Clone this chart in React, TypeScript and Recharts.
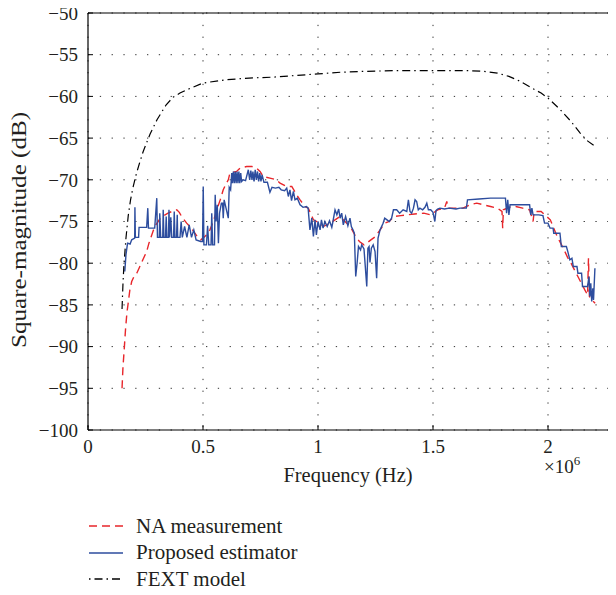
import React from 'react';
import { LineChart, Line, XAxis, YAxis, CartesianGrid, Legend } from 'recharts';

// Frequency in units of 1e6 Hz, magnitude in dB
const xTicks = [0, 0.5, 1, 1.5, 2];
const yTicks = [-100, -95, -90, -85, -80, -75, -70, -65, -60, -55, -50];

const naMeasurement: [number, number][] = [
  [0.148, -95.0], [0.152, -92.5], [0.157, -90.5], [0.163, -88.0], [0.169, -86.0], [0.176, -84.5],
  [0.182, -83.2], [0.19, -82.2], [0.2, -81.6], [0.212, -81.2], [0.222, -80.6], [0.235, -79.8],
  [0.245, -79.2], [0.255, -78.6], [0.265, -77.6], [0.275, -76.8], [0.285, -76.0], [0.295, -75.4],
  [0.305, -75.0], [0.315, -74.6], [0.33, -74.3], [0.348, -74.0], [0.365, -73.8], [0.386, -73.6],
  [0.397, -73.9], [0.407, -74.4], [0.418, -74.8], [0.429, -75.2], [0.443, -75.6], [0.457, -76.1],
  [0.47, -76.6], [0.48, -77.0], [0.49, -77.2], [0.5, -77.0], [0.515, -76.6], [0.53, -76.0],
  [0.545, -75.0], [0.56, -73.6], [0.575, -72.4], [0.588, -71.2], [0.6, -70.5], [0.61, -70.0],
  [0.617, -69.2], [0.646, -69.0], [0.661, -68.6], [0.69, -68.4], [0.712, -68.4], [0.733, -68.6],
  [0.748, -69.0], [0.762, -69.6], [0.791, -69.8], [0.82, -70.0], [0.835, -70.4], [0.864, -70.8],
  [0.886, -70.8], [0.907, -71.8], [0.922, -72.4], [0.943, -73.2], [0.958, -73.4], [0.98, -74.8],
  [1.009, -75.2], [1.023, -75.6], [1.052, -75.2], [1.074, -74.8], [1.096, -74.4], [1.125, -75.2],
  [1.14, -75.6], [1.16, -76.6], [1.18, -77.4], [1.2, -77.8], [1.212, -77.6], [1.23, -77.2],
  [1.25, -76.8], [1.27, -76.0], [1.29, -75.2], [1.31, -75.0], [1.33, -74.4], [1.36, -74.3],
  [1.39, -74.2], [1.42, -74.1], [1.46, -74.0], [1.49, -74.2], [1.52, -73.6], [1.55, -73.4],
  [1.56, -72.6], [1.565, -73.4], [1.6, -73.4], [1.63, -73.4], [1.66, -73.0], [1.69, -72.8],
  [1.72, -73.0], [1.75, -73.2], [1.78, -73.4], [1.8, -73.8], [1.803, -75.8], [1.806, -73.6],
  [1.83, -73.3], [1.86, -73.2], [1.89, -73.4], [1.92, -73.6], [1.935, -75.0], [1.94, -73.8],
  [1.97, -73.8], [1.99, -74.3], [2.01, -74.8], [2.025, -75.8], [2.04, -76.8], [2.055, -77.6],
  [2.07, -78.4], [2.085, -79.3], [2.1, -80.0], [2.115, -80.8], [2.13, -81.6], [2.145, -82.4],
  [2.16, -83.2], [2.172, -83.8], [2.176, -79.4], [2.18, -84.0], [2.19, -84.4], [2.205, -84.8],
];

const proposedEstimator: [number, number][] = [
  [0.16, -81.0], [0.165, -79.0], [0.172, -77.6], [0.183, -77.7], [0.19, -77.2], [0.203, -77.0],
  [0.204, -73.3], [0.206, -76.9], [0.22, -76.9], [0.222, -75.7], [0.255, -75.7], [0.26, -73.4],
  [0.263, -75.8], [0.29, -75.8], [0.299, -72.2], [0.302, -76.9], [0.31, -76.9], [0.312, -74.0],
  [0.316, -76.9], [0.325, -76.9], [0.327, -73.6], [0.33, -76.9], [0.337, -76.9], [0.34, -74.4],
  [0.343, -76.9], [0.35, -76.9], [0.352, -73.6], [0.355, -76.9], [0.36, -74.5], [0.364, -76.9],
  [0.372, -76.9], [0.375, -73.8], [0.378, -76.9], [0.385, -76.9], [0.388, -74.2], [0.39, -76.9],
  [0.4, -76.9], [0.405, -75.0], [0.41, -76.9], [0.42, -75.6], [0.43, -76.9], [0.44, -75.4],
  [0.45, -76.9], [0.46, -76.0], [0.47, -77.2], [0.49, -77.4], [0.498, -77.4], [0.501, -70.8],
  [0.504, -77.8], [0.515, -77.8], [0.52, -75.5], [0.525, -77.8], [0.535, -77.8], [0.538, -74.0],
  [0.542, -77.8], [0.55, -77.8], [0.553, -71.8], [0.557, -75.0], [0.562, -73.0], [0.567, -77.6],
  [0.572, -74.0], [0.58, -72.8], [0.585, -72.8], [0.588, -74.6], [0.592, -72.4], [0.61, -74.6],
  [0.614, -70.9], [0.62, -71.2], [0.625, -69.2], [0.628, -70.4], [0.632, -69.0],
  [0.636, -70.4], [0.64, -69.0], [0.644, -70.4], [0.648, -69.0], [0.652, -70.4], [0.656, -69.0],
  [0.66, -70.4], [0.664, -69.2], [0.668, -70.2], [0.675, -70.0], [0.685, -70.1], [0.697, -68.8],
  [0.703, -70.0], [0.708, -68.9], [0.713, -70.0], [0.717, -69.0], [0.722, -70.2], [0.727, -68.8],
  [0.732, -70.0], [0.737, -69.0], [0.742, -70.2], [0.747, -69.2], [0.752, -70.2], [0.757, -69.4],
  [0.765, -70.3], [0.78, -70.3], [0.791, -71.5], [0.8, -70.9], [0.815, -71.0], [0.83, -70.9],
  [0.84, -71.2], [0.855, -71.3], [0.864, -71.0], [0.871, -72.0], [0.878, -71.2], [0.885, -72.5],
  [0.893, -71.4], [0.9, -72.4], [0.91, -72.2], [0.922, -73.0], [0.935, -73.3], [0.95, -73.2],
  [0.957, -73.4], [0.965, -76.0], [0.973, -74.6], [0.98, -76.8], [0.987, -74.8], [0.993, -76.6],
  [1.0, -75.0], [1.009, -76.0], [1.015, -74.8], [1.022, -75.8], [1.03, -75.0], [1.04, -75.6],
  [1.05, -74.9], [1.06, -75.7], [1.065, -75.0], [1.074, -73.6], [1.082, -74.2], [1.09, -73.5],
  [1.096, -74.6], [1.103, -74.0], [1.11, -75.4], [1.12, -74.4], [1.13, -75.5], [1.139, -74.6],
  [1.145, -75.6], [1.152, -76.0], [1.158, -76.4], [1.164, -81.6], [1.17, -80.0], [1.176, -78.0],
  [1.185, -78.4], [1.19, -77.8], [1.2, -78.3], [1.212, -82.8], [1.217, -78.2], [1.222, -78.0],
  [1.226, -79.9], [1.232, -78.2], [1.24, -77.8], [1.248, -78.6], [1.255, -81.8], [1.261, -77.0],
  [1.27, -76.0], [1.283, -75.2], [1.29, -74.6], [1.3, -74.8], [1.31, -75.0], [1.32, -74.6],
  [1.328, -73.6], [1.342, -73.6], [1.355, -74.0], [1.37, -73.6], [1.386, -73.8], [1.393, -72.4],
  [1.4, -73.8], [1.407, -74.0], [1.415, -73.4], [1.422, -72.4], [1.429, -72.6], [1.436, -73.6],
  [1.443, -73.4], [1.455, -73.6], [1.465, -73.3], [1.473, -72.8], [1.48, -73.6], [1.49, -73.6],
  [1.5, -73.9], [1.508, -75.0], [1.513, -73.7], [1.52, -73.5], [1.53, -73.4], [1.55, -73.5],
  [1.57, -73.4], [1.6, -73.5], [1.617, -73.4], [1.645, -73.4], [1.65, -72.4], [1.7, -72.3],
  [1.75, -72.2], [1.8, -72.2], [1.815, -72.2], [1.82, -74.0], [1.825, -72.4], [1.83, -74.2],
  [1.835, -73.0], [1.84, -73.0], [1.88, -73.0], [1.92, -73.0], [1.925, -74.2], [1.93, -73.4],
  [1.935, -74.2], [1.96, -74.2], [1.978, -74.3], [1.985, -75.2], [2.0, -75.2], [2.009, -75.8],
  [2.022, -75.8], [2.025, -76.4], [2.052, -76.4], [2.058, -78.0], [2.08, -78.0], [2.087, -78.7],
  [2.095, -79.6], [2.104, -79.4], [2.11, -80.4], [2.126, -80.4], [2.13, -81.2], [2.146, -81.2],
  [2.15, -82.8], [2.172, -82.8], [2.178, -81.6], [2.182, -84.0], [2.186, -82.4], [2.19, -84.6],
  [2.195, -83.0], [2.198, -84.4], [2.204, -80.6],
];

const fextModel: [number, number][] = [
  [0.148, -85.5], [0.152, -82.5], [0.156, -80.3], [0.165, -77.0], [0.175, -74.3], [0.185, -72.4],
  [0.195, -71.0], [0.21, -69.3], [0.225, -67.9], [0.24, -66.6], [0.27, -64.5], [0.3, -62.8],
  [0.34, -61.0], [0.37, -60.1], [0.4, -59.6], [0.43, -59.2], [0.5, -58.4], [0.6, -58.0],
  [0.7, -57.8], [0.8, -57.7], [0.9, -57.5], [1.0, -57.3], [1.1, -57.1], [1.2, -57.0],
  [1.35, -56.9], [1.5, -56.9], [1.65, -56.9], [1.72, -57.0], [1.78, -57.2], [1.83, -57.6],
  [1.88, -58.2], [1.93, -59.0], [1.97, -59.6], [2.0, -60.2], [2.05, -61.5], [2.1, -63.0],
  [2.14, -64.4], [2.17, -65.3], [2.2, -65.9],
];

const toRows = (pts: [number, number][]) => pts.map(([f, v]) => ({ f, v }));

const FONT = '"Liberation Serif", "DejaVu Serif", serif';
const TEXT = '#231f20';

const series = [
  { name: 'NA measurement', data: toRows(naMeasurement), color: '#e8262b', dash: '8 5', width: 1.4, legendDash: '8 5' },
  { name: 'Proposed estimator', data: toRows(proposedEstimator), color: '#2d4d9e', dash: undefined, width: 1.4, legendDash: undefined },
  { name: 'FEXT model', data: toRows(fextModel), color: '#000000', dash: '8 4 1.5 4', width: 1.2, legendDash: '1.5 4 8 4' },
];

const fmtY = (v: number) => (v < 0 ? '\u2212' + Math.abs(v) : String(v));

const LegendContent = () => (
  <div style={{ fontFamily: FONT, fontSize: 21, color: TEXT }}>
    {series.map((s) => (
      <div key={s.name} style={{ display: 'flex', alignItems: 'center', height: 26.5 }}>
        <svg width={48} height={10} style={{ flex: 'none' }}>
          <line x1={1} y1={5} x2={35} y2={5} stroke={s.color} strokeWidth={1.4} strokeDasharray={s.legendDash} />
        </svg>
        <span style={{ whiteSpace: 'nowrap' }}>{s.name}</span>
      </div>
    ))}
  </div>
);

export default function App() {
  return (
    <div style={{ margin: -8, width: 616, height: 595, overflow: 'hidden', position: 'relative', background: '#fff' }}>
      <LineChart width={620} height={595} margin={{ top: 12, right: 0, bottom: 125, left: 28 }}>
        <CartesianGrid stroke="#333" strokeWidth={1} strokeDasharray="1.3 10.5" />
        <XAxis
          type="number"
          dataKey="f"
          domain={[0, 2.3]}
          ticks={xTicks}
          allowDataOverflow
          height={40}
          axisLine={{ stroke: '#000', strokeWidth: 1.2 }}
          tickLine={{ stroke: '#000' }}
          tickSize={-5}
          tickMargin={15}
          tick={{ fill: TEXT, fontFamily: FONT, fontSize: 19 }}
          label={{
            content: (p: any) => {
              const vb = p.viewBox;
              return (
                <g>
                  <text x={vb.x + 260} y={vb.y + 52} textAnchor="middle" fontFamily={FONT} fontSize={20.5} fill={TEXT}>
                    Frequency (Hz)
                  </text>
                  <text x={vb.x + 456} y={vb.y + 43} fontFamily={FONT} fontSize={19} fill={TEXT}>
                    ×10<tspan dy={-8} fontSize={13}>6</tspan>
                  </text>
                </g>
              );
            },
          }}
        />
        <XAxis
          xAxisId="top"
          orientation="top"
          type="number"
          domain={[0, 2.3]}
          ticks={xTicks}
          height={1}
          axisLine={{ stroke: '#000', strokeWidth: 1.2 }}
          tickLine={{ stroke: '#000' }}
          tickSize={-5}
          tick={false}
        />
        <YAxis
          type="number"
          domain={[-100, -50]}
          ticks={yTicks}
          width={60}
          axisLine={{ stroke: '#000', strokeWidth: 1.2 }}
          tickLine={{ stroke: '#000' }}
          tickSize={-5}
          tickMargin={15}
          tickFormatter={fmtY}
          tick={{ fill: TEXT, fontFamily: FONT, fontSize: 19 }}
          label={{
            content: (p: any) => {
              const vb = p.viewBox;
              const cx = vb.x - 9;
              const cy = vb.y + 217;
              return (
                <text
                  x={cx}
                  y={cy}
                  transform={`rotate(-90 ${cx} ${cy})`}
                  textAnchor="middle"
                  dominantBaseline="central"
                  fontFamily={FONT}
                  fontSize={20.5}
                  fill={TEXT}
                  textLength={236}
                  lengthAdjust="spacingAndGlyphs"
                >
                  Square-magnitude (dB)
                </text>
              );
            },
          }}
        />
        <YAxis
          yAxisId="right"
          orientation="right"
          type="number"
          domain={[-100, -50]}
          ticks={yTicks}
          width={3}
          axisLine={{ stroke: '#000', strokeWidth: 1.2 }}
          tickLine={{ stroke: '#000' }}
          tickSize={-5}
          tick={false}
        />
        {series.map((s) => (
          <Line
            key={s.name}
            data={s.data}
            dataKey="v"
            name={s.name}
            type="linear"
            stroke={s.color}
            strokeWidth={s.width}
            strokeDasharray={s.dash}
            dot={false}
            activeDot={false}
            isAnimationActive={false}
          />
        ))}
        <Legend
          layout="vertical"
          verticalAlign="middle"
          align="center"
          wrapperStyle={{ position: 'absolute', left: 88, top: 513, width: 320, height: 82 }}
          content={<LegendContent />}
        />
      </LineChart>
    </div>
  );
}
